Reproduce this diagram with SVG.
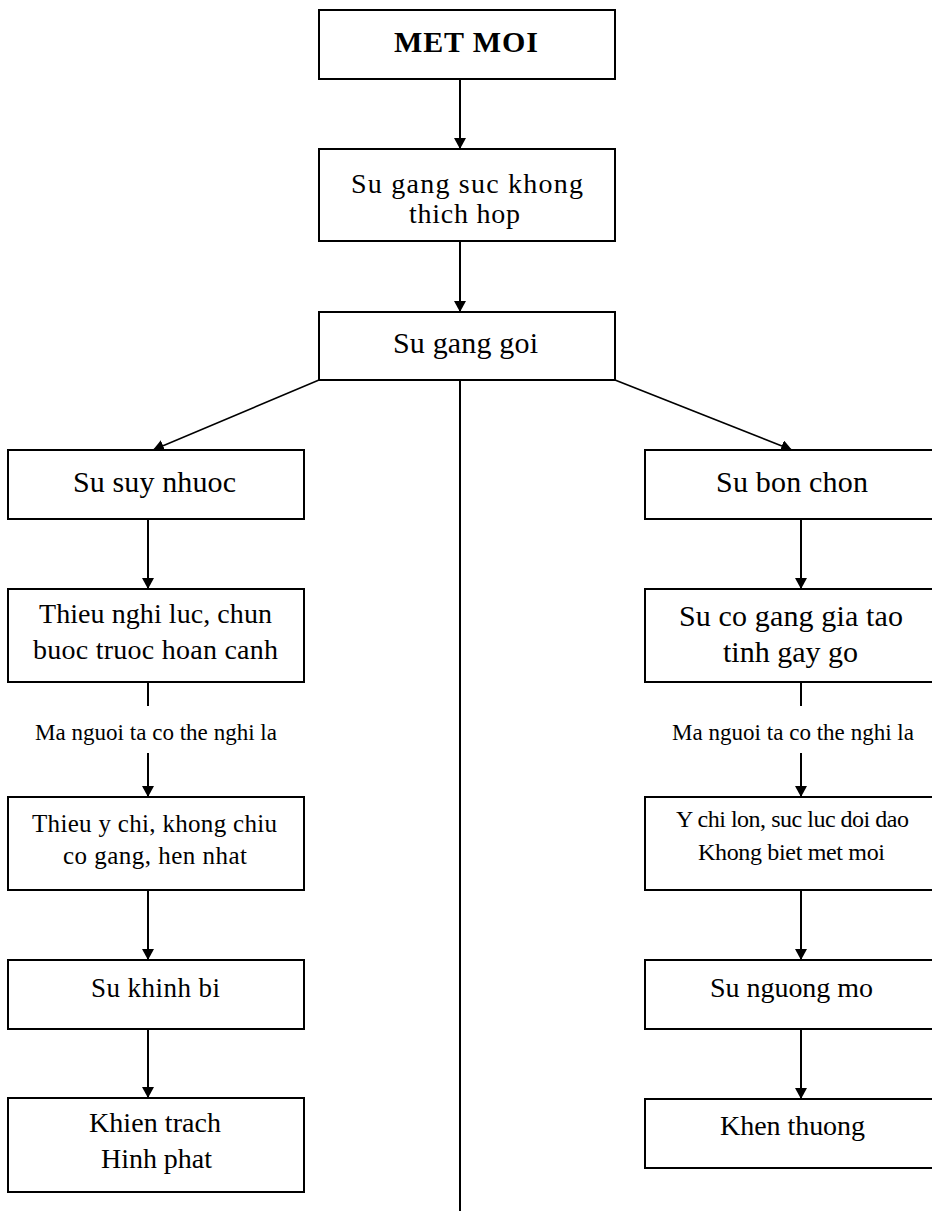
<svg xmlns="http://www.w3.org/2000/svg" width="932" height="1211" viewBox="0 0 932 1211">
<style>
.box{fill:#fff;stroke:#000;stroke-width:2}
.t{font-family:"Liberation Serif","Times New Roman",serif;fill:#000}
.c{stroke:#000;stroke-width:2;fill:none}
.a{marker-end:url(#ah)}
</style>
<defs>
<marker id="ah" markerUnits="userSpaceOnUse" markerWidth="12" markerHeight="12" refX="11" refY="6" orient="auto">
<path d="M0,0 L11,6 L0,12 z" fill="#000"/>
</marker>
</defs>
<rect width="932" height="1211" fill="#fff"/>
<g id="connectors">
<line class="c a" x1="460" y1="79" x2="460" y2="149"/>
<line class="c a" x1="460" y1="241" x2="460" y2="312"/>
<line class="c" x1="460" y1="380" x2="460" y2="1211"/>
<line class="c a" x1="319" y1="380" x2="153" y2="450" style="stroke-width:1.6"/>
<line class="c a" x1="615" y1="380" x2="792" y2="450" style="stroke-width:1.6"/>
<line class="c a" x1="148" y1="519" x2="148" y2="589"/>
<line class="c" x1="148" y1="682" x2="148" y2="706"/>
<line class="c a" x1="148" y1="753" x2="148" y2="797"/>
<line class="c a" x1="148" y1="890" x2="148" y2="960"/>
<line class="c a" x1="148" y1="1029" x2="148" y2="1098"/>
<line class="c a" x1="801" y1="519" x2="801" y2="589"/>
<line class="c" x1="801" y1="682" x2="801" y2="706"/>
<line class="c a" x1="801" y1="753" x2="801" y2="797"/>
<line class="c a" x1="801" y1="890" x2="801" y2="960"/>
<line class="c a" x1="801" y1="1029" x2="801" y2="1099"/>
<text class="t" x="35" y="740" font-size="23" textLength="242">Ma nguoi ta co the nghi la</text>
<text class="t" x="672" y="740" font-size="23" textLength="242">Ma nguoi ta co the nghi la</text>
</g>
<g id="met-moi">
<rect class="box" x="319" y="10" width="296" height="69"/>
<text class="t" x="394" y="52" font-size="30" font-weight="bold" textLength="144">MET MOI</text>
</g>
<g id="su-gang-suc">
<rect class="box" x="319" y="149" width="296" height="92"/>
<text class="t" x="351" y="193" font-size="28" textLength="232">Su gang suc khong</text>
<text class="t" x="409" y="223" font-size="28" textLength="111">thich hop</text>
</g>
<g id="su-gang-goi">
<rect class="box" x="319" y="312" width="296" height="68"/>
<text class="t" x="393" y="353" font-size="30" textLength="145">Su gang goi</text>
</g>
<g id="su-suy-nhuoc">
<rect class="box" x="8" y="450" width="296" height="69"/>
<text class="t" x="73" y="492" font-size="30" textLength="163">Su suy nhuoc</text>
</g>
<g id="thieu-nghi-luc">
<rect class="box" x="8" y="589" width="296" height="93"/>
<text class="t" x="39" y="623" font-size="28" textLength="233">Thieu nghi luc, chun</text>
<text class="t" x="33" y="659" font-size="28" textLength="245">buoc truoc hoan canh</text>
</g>
<g id="thieu-y-chi">
<rect class="box" x="8" y="797" width="296" height="93"/>
<text class="t" x="32" y="832" font-size="25" textLength="245">Thieu y chi, khong chiu</text>
<text class="t" x="63" y="864" font-size="25" textLength="184">co gang, hen nhat</text>
</g>
<g id="su-khinh-bi">
<rect class="box" x="8" y="960" width="296" height="69"/>
<text class="t" x="91" y="997" font-size="27" textLength="129">Su khinh bi</text>
</g>
<g id="khien-trach">
<rect class="box" x="8" y="1098" width="296" height="94"/>
<text class="t" x="89" y="1132" font-size="28" textLength="132">Khien trach</text>
<text class="t" x="101" y="1168" font-size="28" textLength="111">Hinh phat</text>
</g>
<g id="su-bon-chon">
<rect class="box" x="645" y="450" width="300" height="69"/>
<text class="t" x="716" y="492" font-size="30" textLength="152">Su bon chon</text>
</g>
<g id="su-co-gang">
<rect class="box" x="645" y="589" width="300" height="93"/>
<text class="t" x="679" y="626" font-size="30" textLength="224">Su co  gang gia tao</text>
<text class="t" x="723" y="662" font-size="30" textLength="135">tinh gay go</text>
</g>
<g id="y-chi-lon">
<rect class="box" x="645" y="797" width="300" height="93"/>
<text class="t" x="676" y="827" font-size="24" textLength="233">Y chi lon, suc luc doi dao</text>
<text class="t" x="698" y="860" font-size="24" textLength="187">Khong biet met moi</text>
</g>
<g id="su-nguong-mo">
<rect class="box" x="645" y="960" width="300" height="69"/>
<text class="t" x="710" y="997" font-size="28" textLength="163">Su nguong mo</text>
</g>
<g id="khen-thuong">
<rect class="box" x="645" y="1099" width="300" height="69"/>
<text class="t" x="720" y="1135" font-size="28" textLength="145">Khen thuong</text>
</g>
</svg>
